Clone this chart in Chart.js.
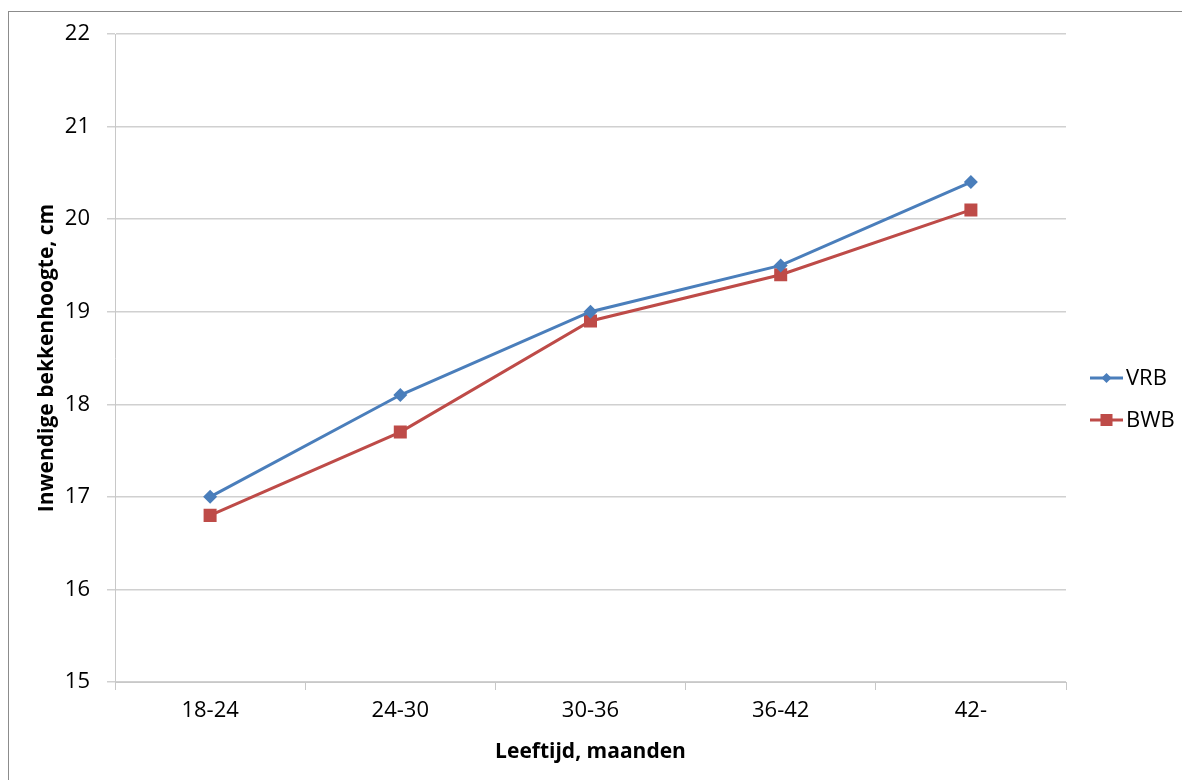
<!DOCTYPE html>
<html>
<head>
<meta charset="utf-8">
<script src="https://cdn.jsdelivr.net/npm/chart.js@4/dist/chart.umd.min.js"></script>
<style>
  html, body { margin: 0; padding: 0; background: #fff; overflow: hidden; }
  #frame { position: absolute; left: 8px; top: 11px; width: 1300px; height: 900px; border: 1px solid #8c8c8c; }
  #wrap { position: absolute; left: 0; top: 0; width: 1182px; height: 780px; }
</style>
</head>
<body>
<div id="frame"></div>
<div id="wrap"><canvas id="lineCanvas"></canvas></div>
<script>
const categories = ["18-24", "24-30", "30-36", "36-42", "42-"];
const vrbValues = [17.0, 18.1, 19.0, 19.5, 20.4];
const bwbValues = [16.8, 17.7, 18.9, 19.4, 20.1];
const yMin = 15;
const yMax = 22;

const blue = "#4a7ebb";
const red = "#be4b48";
const fontName = "'Open Sans', sans-serif";

// legend like excel: short line with the marker on it
const excelLegend = {
    id: "excelLegend",
    afterDraw(chart) {
        const ctx = chart.ctx;
        const items = [
            { label: "VRB", color: blue, style: "diamond", y: 378 },
            { label: "BWB", color: red, style: "square", y: 420 },
        ];
        ctx.save();
        items.forEach(function (it) {
            ctx.strokeStyle = it.color;
            ctx.lineWidth = 3;
            ctx.beginPath();
            ctx.moveTo(1090, it.y);
            ctx.lineTo(1123, it.y);
            ctx.stroke();
            ctx.fillStyle = it.color;
            const cx = 1106.5;
            if (it.style === "diamond") {
                ctx.beginPath();
                ctx.moveTo(cx, it.y - 5);
                ctx.lineTo(cx + 5, it.y);
                ctx.lineTo(cx, it.y + 5);
                ctx.lineTo(cx - 5, it.y);
                ctx.closePath();
                ctx.fill();
            } else {
                ctx.fillRect(cx - 6, it.y - 6, 12, 12);
            }
            ctx.fillStyle = "#000";
            ctx.font = "22px " + fontName;
            ctx.textBaseline = "middle";
            ctx.textAlign = "left";
            ctx.fillText(it.label, 1126, it.y + 1);
        });
        ctx.restore();
    },
};

const lineChart = new Chart(document.getElementById("lineCanvas"), {
    type: "line",
    data: {
        labels: categories,
        datasets: [
            {
                label: "VRB",
                data: vrbValues,
                borderColor: blue,
                backgroundColor: blue,
                borderWidth: 3,
                pointStyle: "rectRot",
                pointRadius: 7,
                pointHoverRadius: 7,
                pointBorderWidth: 0,
                tension: 0,
            },
            {
                label: "BWB",
                data: bwbValues,
                borderColor: red,
                backgroundColor: red,
                borderWidth: 3,
                pointStyle: "rect",
                pointRadius: 9.2,
                pointHoverRadius: 9.2,
                pointBorderWidth: 0,
                tension: 0,
            },
        ],
    },
    options: {
        responsive: true,
        maintainAspectRatio: false,
        animation: false,
        layout: { padding: { top: 34, right: 116, left: 0, bottom: 0 } },
        plugins: {
            legend: { display: false },
            tooltip: { enabled: false },
        },
        scales: {
            x: {
                offset: true,
                afterFit(scale) { scale.height = 98; },
                grid: {
                    offset: true,
                    drawOnChartArea: false,
                    drawTicks: true,
                    tickLength: 8,
                    color: "#c8c8c8",
                },
                border: { color: "#c8c8c8", width: 1 },
                ticks: {
                    color: "#000",
                    padding: 8,
                    font: { family: fontName, size: 22 },
                    maxRotation: 0,
                },
                title: {
                    display: true,
                    text: "Leeftijd, maanden",
                    color: "#000",
                    font: { family: fontName, size: 21, weight: "bold" },
                    padding: { top: 0, bottom: 15 },
                },
            },
            y: {
                min: yMin,
                max: yMax,
                afterFit(scale) { scale.width = 115; },
                grid: {
                    color: "#d0d0d0",
                    tickLength: 8,
                    lineWidth: 1.5,
                },
                border: { color: "#c8c8c8", width: 1 },
                ticks: {
                    stepSize: 1,
                    color: "#000",
                    padding: 17,
                    font: { family: fontName, size: 22 },
                },
                title: {
                    display: true,
                    text: "Inwendige bekkenhoogte, cm",
                    color: "#000",
                    font: { family: fontName, size: 21, weight: "bold" },
                    padding: { top: 34, bottom: 0 },
                },
            },
        },
    },
    plugins: [excelLegend],
});
</script>
</body>
</html>
